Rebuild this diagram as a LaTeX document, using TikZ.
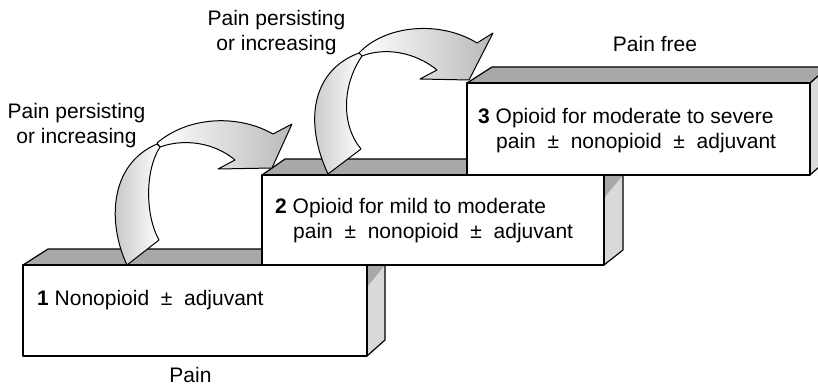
\documentclass[tikz,border=0pt]{standalone}
\usepackage{fontspec}
\setmainfont{Liberation Sans}
\definecolor{topgray}{gray}{0.66}
\definecolor{sidegray}{gray}{0.85}
\begin{document}
\begin{tikzpicture}[x=1pt,y=-1pt,
  face/.style={draw=black, line width=1.2pt, line join=round},
  topface/.style={face, fill=topgray},
  sideface/.style={face, fill=sidegray},
  frontface/.style={face, fill=white},
  shadowtri/.style={fill=topgray},
  risepart/.style={draw=black, line width=1pt, line join=round, left color=gray!50, right color=white},
  flatpart/.style={draw=black, line width=1pt, line join=round, left color=white, middle color=gray!20, right color=gray!55},
  lbl/.style={inner sep=0pt, font=\fontsize{21}{25}\selectfont}
]
\useasboundingbox (0,0) rectangle (818,385);
\clip (0,0) rectangle (818,385);

% ---- step 1
\path[sideface] (367,265) -- (385,249) -- (385,340) -- (367,356) -- cycle;
\fill[shadowtri] (367,265) -- (385,265) -- (367,287) -- cycle;
\path[topface] (23,265) -- (48,249) -- (385,249) -- (367,265) -- cycle;
\path[frontface] (23,265) rectangle (367,356);

% ---- step 2
\path[sideface] (604,175) -- (623,159) -- (623,250) -- (604,265) -- cycle;
\fill[shadowtri] (604,175) -- (623,175) -- (604,198) -- cycle;
\path[topface] (262,175) -- (285,159) -- (623,159) -- (604,175) -- cycle;
\path[frontface] (262,175) rectangle (604,265);

% ---- step 3
\path[sideface] (810,83) -- (828,67) -- (828,159) -- (810,175) -- cycle;
\path[topface] (467,83) -- (492,67) -- (828,67) -- (810,83) -- cycle;
\path[frontface] (467,83) rectangle (810,175);

% ---- arrow 1
\path[flatpart] (157,143) .. controls (190,115) and (240,115) .. (273,134)
  -- (292,124) -- (272,168) -- (218,169) -- (235,160)
  .. controls (215,143) and (185,138) .. (160,147) -- cycle;
\path[risepart] (127,265) .. controls (108,225) and (108,165) .. (157,144)
  -- (160,147) .. controls (145,170) and (145,215) .. (159,240) -- cycle;

% ---- arrow 2
\path[flatpart] (359,53) .. controls (385,25) and (440,20) .. (477,43)
  -- (493,33) -- (469,80) -- (420,79) -- (437,70)
  .. controls (415,52) and (385,47) .. (362,56) -- cycle;
\path[risepart] (328,174) .. controls (303,120) and (313,70) .. (359,53)
  -- (362,56) .. controls (342,85) and (341,125) .. (361,149) -- cycle;

% ---- texts
\node[lbl, anchor=base] (pp1a) at (76.5,118) {Pain persisting};
\node[lbl, anchor=base] (pp1b) at (76.5,143) {or increasing};
\node[lbl, anchor=base] (pp2a) at (276.5,26) {Pain persisting};
\node[lbl, anchor=base] (pp2b) at (276.5,51) {or increasing};
\node[lbl, anchor=base] (free) at (655,52) {Pain free};
\node[lbl, anchor=base] (pain) at (190.5,382) {Pain};

\node[lbl, anchor=base west] (t1) at (37,305) {\textbf{1} Nonopioid~~±~~adjuvant};
\node[lbl, anchor=base west] (t2a) at (275,213) {\textbf{2} Opioid for mild to moderate};
\node[lbl, anchor=base west] (t2b) at (293,238) {pain~~±~~nonopioid~~±~~adjuvant};
\node[lbl, anchor=base west] (t3a) at (478,123) {\textbf{3} Opioid for moderate to severe};
\node[lbl, anchor=base west] (t3b) at (496,148) {pain~~±~~nonopioid~~±~~adjuvant};
\end{tikzpicture}
\end{document}
